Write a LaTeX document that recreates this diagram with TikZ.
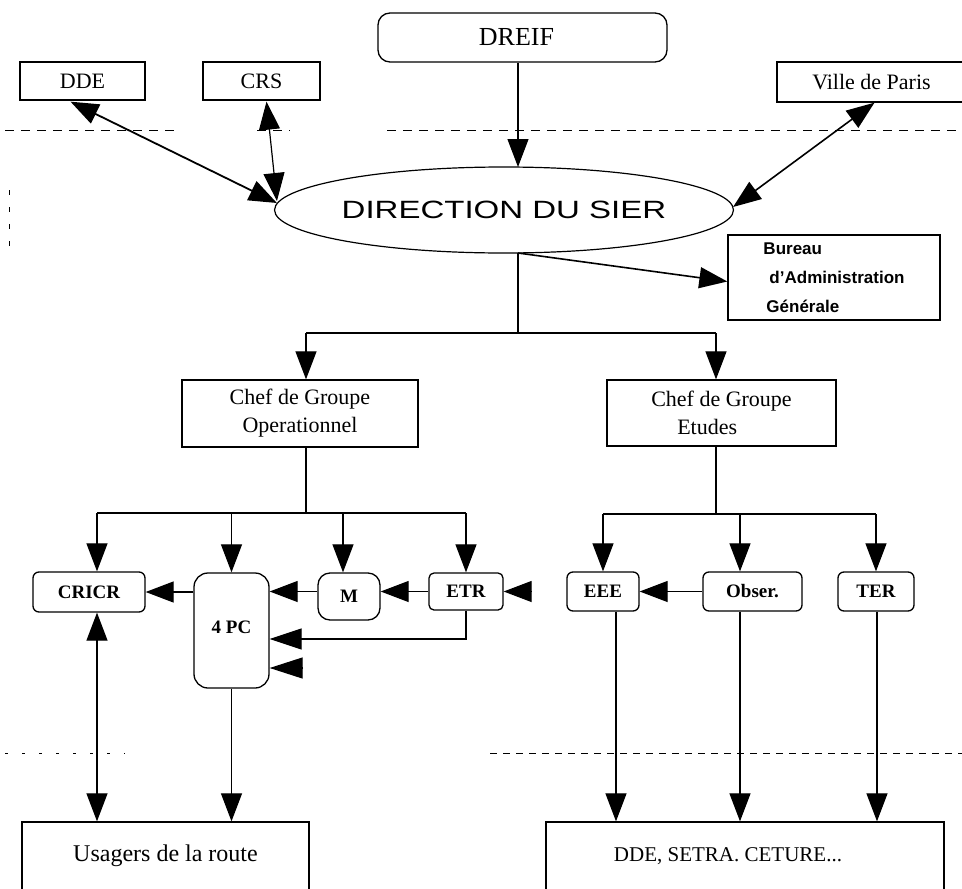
\documentclass[tikz,border=0pt]{standalone}
\usepackage{fontspec}
\setmainfont{Liberation Serif}
\setsansfont{Liberation Sans}
\usetikzlibrary{arrows.meta,shapes.geometric,calc}
\newcommand\fsz[2]{\fontsize{#1}{#2}\selectfont}
\tikzset{
  box/.style={draw, line width=1.3pt, inner sep=0pt, align=center},
  rbox/.style={box, rounded corners=6pt, font=\fsz{19}{22}\bfseries},
  tri/.style={line width=1.2pt, -{Triangle[width=21pt,length=28pt]}},
  dtri/.style={line width=1.2pt, {Triangle[width=21pt,length=28pt]}-{Triangle[width=21pt,length=28pt]}},
  sep/.style={line width=0.9pt, dash pattern=on 9pt off 7pt}
}
\begin{document}
\begin{tikzpicture}[x=1pt,y=-1pt]
\clip (0,0) rectangle (962,889);
\useasboundingbox (0,0) rectangle (962,889);

% separators
\draw[sep] (5,130) -- (178,130);
\draw[sep] (257,130) -- (290,130);
\draw[sep] (387,130) -- (962,130);
\draw[line width=0.9pt, dash pattern=on 5pt off 12pt] (9,190) -- (9,255);
\draw[line width=0.9pt, dash pattern=on 3pt off 14pt] (5,753) -- (125,753);
\draw[line width=0.9pt, dash pattern=on 7pt off 6pt] (490,753) -- (962,753);

% top level
\node[box, rounded corners=12pt, minimum width=289pt, minimum height=49pt, font=\fsz{26}{30}] (DREIF) at (522.5,37.5) {DREIF\hspace*{12pt}};
\node[box, minimum width=125pt, minimum height=38pt, font=\fsz{22}{26}] (DDE) at (82.5,81) {DDE};
\node[box, minimum width=117pt, minimum height=38pt, font=\fsz{22}{26}] (CRS) at (261.5,81) {CRS};
\node[box, minimum width=189pt, minimum height=40pt, font=\fsz{22}{26}] (Ville) at (871.5,82) {Ville de Paris};

\node[draw, ellipse, line width=1.2pt, inner sep=0pt, minimum width=428pt, minimum height=86pt,
      font=\sffamily\fsz{25}{30}] (SIER) at (504,210) {\scalebox{1.32}[1]{DIRECTION DU SIER}};

\node[box, minimum width=212pt, minimum height=85pt, align=left, font=\sffamily\bfseries\fsz{17}{29}]
  (Bureau) at (834,277.5) {Bureau\\\hspace*{6pt}d'Administration\\\hspace*{3pt}Générale};

\node[box, minimum width=236pt, minimum height=67pt, font=\fsz{22}{28}] (ChefOp) at (300,413.5) {Chef de Groupe\\Operationnel};
\node[box, minimum width=229pt, minimum height=66pt, align=left, font=\fsz{22}{28}] (ChefEt) at (721.5,413) {Chef de Groupe\\\hspace*{26pt}Etudes};

% small boxes
\node[rbox, minimum width=112pt, minimum height=40pt] (CRICR) at (89,592) {CRICR};
\node[rbox, rounded corners=14pt, minimum width=75pt, minimum height=115pt] (P4) at (231.5,630.5) {\raisebox{7pt}{4 PC}};
\node[rbox, rounded corners=12pt, minimum width=62pt, minimum height=47pt] (M) at (349,596.5) {M};
\node[rbox, rounded corners=5pt, minimum width=74pt, minimum height=37pt] (ETR) at (466,591.5) {ETR};
\node[rbox, minimum width=72pt, minimum height=39pt] (EEE) at (603,591.5) {EEE};
\node[rbox, minimum width=99pt, minimum height=39pt] (Obser) at (752.5,591.5) {Obser.};
\node[rbox, minimum width=76pt, minimum height=39pt] (TER) at (876,591.5) {TER};

% bottom boxes
\node[box, minimum width=287pt, minimum height=68pt, font=\fsz{24}{28}] (Usag) at (165.5,856) {Usagers de la route};
\node[box, minimum width=398pt, minimum height=68pt, font=\fsz{21}{26}] (DDS) at (745,856) {DDE, SETRA. CETURE...\hspace*{34pt}};

% top connectors
\draw[tri] (DREIF.south -| 518,0) -- (518,167);
\draw[dtri, line width=1.8pt] ($(DDE.south)+(-12,1)$) -- ($(SIER.west)+(3,-7)$);
\draw[dtri] ($(CRS.south)+(5,1)$) -- ($(SIER.west)+(3,-9)$);
\draw[dtri, line width=1.6pt] ($(Ville.south)+(3,0)$) -- ($(SIER.east)+(-1,-3)$);

\coordinate (sb) at (518,253);
\draw[tri, line width=1.6pt] (sb) -- ($(Bureau.west)+(0,4)$);

% tree level 1
\coordinate (h1) at (306,333);
\coordinate (h2) at (716,333);
\draw[line width=1.2pt] (sb) -- (sb |- h1);
\draw[line width=1.2pt] (h1) -- (h2);
\draw[tri] (h1) -- (h1 |- ChefOp.north);
\draw[tri] (h2) -- (h2 |- ChefEt.north);

% tree level 2 left
\coordinate (l1) at (97,513);
\coordinate (lm) at (343,513);
\coordinate (l4) at (466,513);
\draw[line width=1.2pt] (h1 |- ChefOp.south) -- (h1 |- l1);
\draw[line width=1.2pt] (l1) -- (l4);
\draw[tri] (l1) -- (l1 |- CRICR.north);
\draw[tri] (P4.north |- l1) -- (P4.north);
\draw[tri] (lm) -- (lm |- M.north);
\draw[tri] (l4) -- (l4 |- ETR.north);

% tree level 2 right
\coordinate (r1) at (603,514);
\coordinate (r2) at (740,514);
\coordinate (r3) at (876,514);
\draw[line width=1.2pt] (h2 |- ChefEt.south) -- (h2 |- r1);
\draw[line width=1.2pt] (r1) -- (r3);
\draw[tri] (r1) -- (r1 |- EEE.north);
\draw[tri] (r2) -- (r2 |- Obser.north);
\draw[tri] (r3) -- (r3 |- TER.north);

% horizontal links
\draw[tri] (P4.west |- CRICR.east) -- (CRICR.east);
\draw[tri] (M.west |- ETR.west) -- (P4.east |- ETR.west);
\draw[tri] (ETR.west) -- (M.east |- ETR.west);
\coordinate (fe) at (531,591.5);
\draw[tri] (fe) -- (ETR.east);
\coordinate (eb) at (466,639);
\draw[line width=1.2pt, -{Triangle[width=21pt,length=32pt]}] (ETR.south) -- (eb) -- (eb -| P4.east);
\coordinate (fp) at (303,668);
\draw[line width=1.2pt, -{Triangle[width=21pt,length=33pt]}] (fp) -- (fp -| P4.east);
\draw[tri] (Obser.west) -- (EEE.east);

% down to bottom boxes
\draw[dtri] (l1 |- CRICR.south) -- (l1 |- Usag.north);
\draw[tri] (P4.south) -- (P4.south |- Usag.north);
\coordinate (e1) at (616,640);
\draw[tri] (e1 |- EEE.south) -- (e1 |- DDS.north);
\draw[tri] (r2 |- Obser.south) -- (r2 |- DDS.north);
\coordinate (t1) at (877,640);
\draw[tri] (t1 |- TER.south) -- (t1 |- DDS.north);
\end{tikzpicture}
\end{document}
